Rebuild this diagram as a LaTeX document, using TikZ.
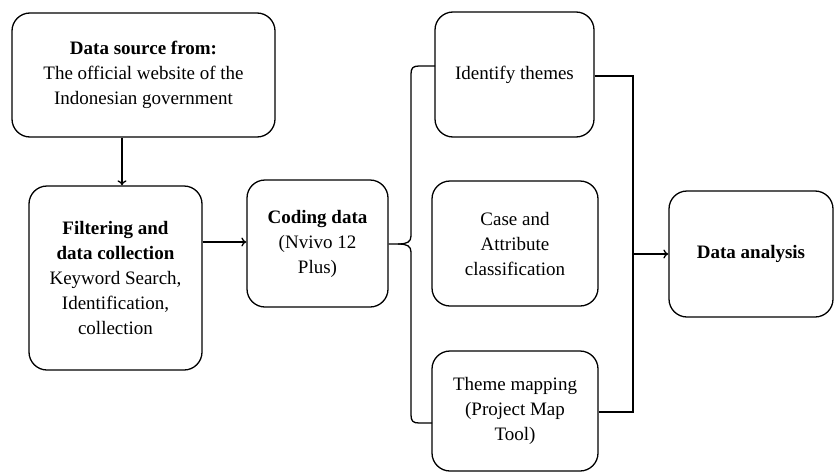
\documentclass[tikz,border=0pt]{standalone}
\usepackage{fontspec}
\setmainfont{Liberation Serif}
\usetikzlibrary{arrows.meta}
\begin{document}
\begin{tikzpicture}[x=1pt,y=-1pt,
  box/.style={draw, line width=1.3pt, rounded corners=18pt, align=center,
    inner sep=0pt, font=\fontsize{19}{25}\selectfont},
  conn/.style={line width=1.3pt},
  arr/.style={line width=1.3pt, -{To[length=5pt,width=9pt]}}]
\useasboundingbox (0,0) rectangle (834,471);
\node[box, minimum width=263pt, minimum height=124pt] (src) at (143.5,75)
  {\textbf{Data source from:}\\The official website of the\\Indonesian government};
\node[box, minimum width=173pt, minimum height=184pt] (filt) at (115.5,278)
  {\textbf{Filtering and}\\\textbf{data collection}\\Keyword Search,\\Identification,\\collection};
\node[box, minimum width=141pt, minimum height=127pt] (code) at (317.5,243.5)
  {\textbf{Coding data}\\(Nvivo 12\\Plus)};
\node[box, minimum width=159pt, minimum height=125pt] (ident) at (514.5,74.5)
  {Identify themes};
\node[box, minimum width=166pt, minimum height=125pt] (case) at (515,243.5)
  {Case and\\Attribute\\classification};
\node[box, minimum width=166pt, minimum height=120pt] (theme) at (515,411)
  {Theme mapping\\(Project Map\\Tool)};
\node[box, minimum width=164pt, minimum height=126pt] (ana) at (751,254)
  {\textbf{Data analysis}};

\coordinate (vx) at (122,0);
\coordinate (hy) at (0,242);
\draw[arr] (src.south -| vx) -- (filt.north -| vx);
\draw[arr] (filt.east |- hy) -- (code.west |- hy);

% curly brace
\coordinate (btip) at (398,244);
\coordinate (btop) at (435,66);
\coordinate (bbot) at (432,423);
\draw[conn] (code.east |- btip) -- (btip)
  .. controls (407,244) and (411,242) .. (411,236) -- (411,74)
  .. controls (411,68) and (413,66) .. (419,66) -- (btop);
\draw[conn] (btip)
  .. controls (407,244) and (411,246) .. (411,252) -- (411,415)
  .. controls (411,421) and (413,423) .. (419,423) -- (bbot);

% right bracket
\coordinate (rb1) at (633,76);
\coordinate (rb2) at (633,412);
\coordinate (rbm) at (633,254);
\draw[conn] (ident.east |- rb1) -- (rb1) -- (rb2) -- (theme.east |- rb2);
\draw[arr] (rbm) -- (ana.west);
\end{tikzpicture}
\end{document}
